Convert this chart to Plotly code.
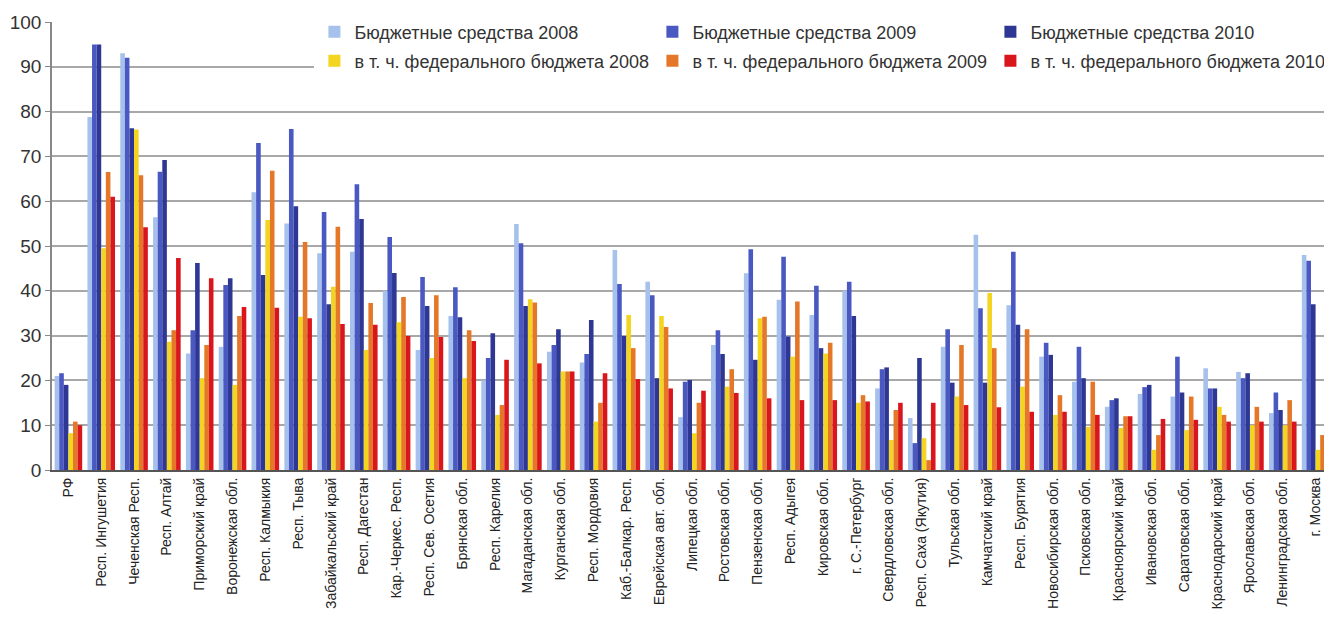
import plotly.graph_objects as go

regions = ["РФ", "Респ. Ингушетия", "Чеченская Респ.", "Респ. Алтай", "Приморский край",
           "Воронежская обл.", "Респ. Калмыкия", "Респ. Тыва", "Забайкальский край",
           "Респ. Дагестан", "Кар.-Черкес. Респ.", "Респ. Сев. Осетия", "Брянская обл.",
           "Респ. Карелия", "Магаданская обл.", "Курганская обл.", "Респ. Мордовия",
           "Каб.-Балкар. Респ.", "Еврейская авт. обл.", "Липецкая обл.", "Ростовская обл.",
           "Пензенская обл.", "Респ. Адыгея", "Кировская обл.", "г. С.-Петербург",
           "Свердловская обл.", "Респ. Саха (Якутия)", "Тульская обл.", "Камчатский край",
           "Респ. Бурятия", "Новосибирская обл.", "Псковская обл.", "Красноярский край",
           "Ивановская обл.", "Саратовская обл.", "Краснодарский край", "Ярославская обл.",
           "Ленинградская обл.", "г. Москва"]

budget_2008 = [21, 78.8, 93, 56.4, 26, 27.5, 62, 55, 48.4, 48.7, 40, 26.8, 34.4, 20, 54.9,
               26.4, 24, 49.1, 42, 11.8, 27.9, 43.9, 38, 34.6, 40, 18.2, 11.6, 27.5, 52.5,
               36.8, 25.3, 19.7, 14.1, 17, 16.4, 22.7, 21.9, 12.7, 48]
budget_2009 = [21.6, 95, 92, 66.6, 31.2, 41.3, 73, 76.1, 57.6, 63.8, 52, 43.1, 40.8, 25, 50.6,
               27.9, 25.9, 41.5, 39, 19.7, 31.2, 49.3, 47.6, 41.1, 42, 22.5, 6, 31.4, 36.1,
               48.7, 28.4, 27.5, 15.6, 18.5, 25.3, 18.2, 20.5, 17.3, 46.7]
budget_2010 = [19, 95, 76.3, 69.2, 46.2, 42.8, 43.5, 58.9, 37, 56, 44, 36.6, 34.1, 30.5, 36.6,
               31.4, 33.5, 29.9, 20.5, 20.1, 25.9, 24.6, 29.8, 27.2, 34.4, 22.9, 25, 19.5, 19.5,
               32.4, 25.7, 20.5, 16, 19, 17.3, 18.2, 21.6, 13.4, 37]
federal_2008 = [8.2, 49.5, 76, 28.6, 20.5, 19, 55.8, 34.2, 40.9, 26.8, 33, 25, 20.5, 12.3, 38.1,
                22, 10.8, 34.6, 34.4, 8.2, 18.6, 33.9, 25.3, 26, 15, 6.7, 7.1, 16.4, 39.5,
                18.6, 12.3, 9.6, 9.4, 4.5, 8.9, 14.1, 10, 10, 4.5]
federal_2009 = [10.8, 66.5, 65.8, 31.2, 27.9, 34.4, 66.8, 50.9, 54.3, 37.3, 38.6, 39, 31.2, 14.5,
                37.4, 22, 15, 27.2, 31.9, 15, 22.5, 34.2, 37.6, 28.4, 16.7, 13.4, 2.2, 27.9,
                27.2, 31.4, 16.7, 19.7, 12, 7.8, 16.4, 12.3, 14.1, 15.6, 7.8]
federal_2010 = [10, 61, 54.2, 47.3, 42.8, 36.4, 36.2, 33.9, 32.6, 32.4, 29.9, 29.7, 28.8, 24.6,
                23.8, 22, 21.6, 20.3, 18.2, 17.7, 17.2, 16, 15.6, 15.6, 15.3, 15, 15, 14.5, 14,
                13, 13, 12.3, 12, 11.4, 11.2, 10.8, 10.8, 10.8, 10.5]

series = [
    ("Бюджетные средства 2008", budget_2008, "#a6c1ec", "legend"),
    ("Бюджетные средства 2009", budget_2009, "#4a58c2", "legend"),
    ("Бюджетные средства 2010", budget_2010, "#2e3894", "legend"),
    ("в т. ч. федерального бюджета 2008", federal_2008, "#f3d41e", "legend2"),
    ("в т. ч. федерального бюджета 2009", federal_2009, "#e47828", "legend2"),
    ("в т. ч. федерального бюджета 2010", federal_2010, "#d9161c", "legend2"),
]

fig = go.Figure()
for name, vals, color, leg in series:
    fig.add_trace(go.Bar(x=regions, y=vals, name=name, marker_color=color,
                         marker_line_width=0, legend=leg))

# page body has an 8px margin, so the figure is sized and offset to compensate
legend_font = dict(family="Liberation Sans, Arial", size=18, color="#333333")
fig.update_layout(
    width=1324, height=622,
    margin=dict(l=44, r=0, t=14, b=160),
    paper_bgcolor="white", plot_bgcolor="white",
    barmode="group", bargap=0.16, bargroupgap=0,
    font=dict(family="Liberation Sans, Arial", color="#333333"),
    legend=dict(orientation="h", x=0.205, xanchor="left", y=0.9777, yanchor="middle",
                entrywidth=293, font=legend_font, bgcolor="white"),
    legend2=dict(orientation="h", x=0.205, xanchor="left", y=0.9129, yanchor="middle",
                 entrywidth=293, font=legend_font, bgcolor="white"),
)
fig.update_yaxes(range=[0, 100], dtick=10, showgrid=True, gridcolor="#a8a8a8", gridwidth=1.5,
                 showline=True, linecolor="#888888", linewidth=1.5,
                 ticks="outside", ticklen=5, tickcolor="#888888",
                 tickfont=dict(size=19, color="#333333"), zeroline=False)
fig.update_xaxes(showline=True, linecolor="#555555", linewidth=2, tickangle=-90,
                 tickfont=dict(size=14, color="#222222"), ticks="")

fig.write_html("out.html")
